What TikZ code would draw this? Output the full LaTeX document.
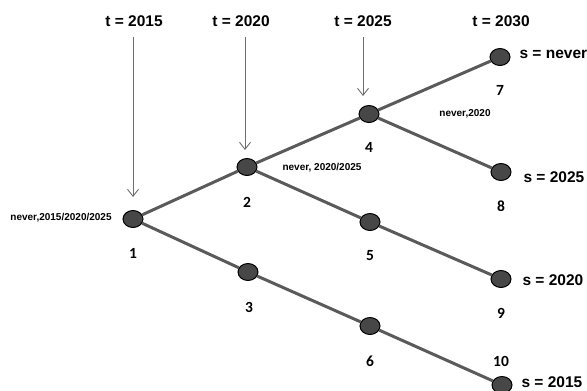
\documentclass[tikz,border=0pt]{standalone}
\usepackage{fontspec}
\setmainfont{Liberation Sans}
\newfontfamily\numfont{Carlito}
\usetikzlibrary{shapes.geometric,arrows.meta}
\definecolor{edgegray}{HTML}{5A5A5A}
\definecolor{nodegray}{HTML}{474747}
\definecolor{arrowgray}{HTML}{6E6E6E}

\begin{document}
\begin{tikzpicture}[x=1pt,y=-1pt,
	stage/.style={ellipse,draw=black,fill=nodegray,line width=1pt,minimum width=20pt,minimum height=17pt,inner sep=0pt},
	branch/.style={draw=edgegray,line width=3pt},
	timelabel/.style={font=\fontsize{15.5}{17}\selectfont\bfseries},
	statelabel/.style={font=\fontsize{15.5}{17}\selectfont\bfseries,anchor=west},
	numlabel/.style={font=\numfont\fontsize{15.5}{17}\selectfont\bfseries},
	setlabel/.style={font=\fontsize{10}{11}\selectfont\bfseries},
	timearrow/.style={draw=arrowgray,line width=0.9pt,shorten <=7pt,-{Straight Barb[length=7pt,width=11pt,line width=0.9pt]}}]
		\clip (0,0) rectangle (587,391);
		\useasboundingbox (0,0) rectangle (587,391);
		
		% time labels and arrows
		\node[timelabel] (t1) at (134,21) {t = 2015};
		\node[timelabel] (t2) at (241,21) {t = 2020};
		\node[timelabel] (t3) at (363,21) {t = 2025};
		\node[timelabel] (t4) at (501,21) {t = 2030};
		
		\coordinate (h1) at (133,197);
		\coordinate (h2) at (245,150);
		\coordinate (h3) at (363,96);
		
		\draw[timearrow] (t1.south -| h1) -- (h1);
		\draw[timearrow] (t2.south -| h2) -- (h2);
		\draw[timearrow] (t3.south -| h3) -- (h3);
		
		% tree
		\node[stage] (n1) at (133,219) {};
		\node[stage] (n2) at (247,167) {};
		\node[stage] (n3) at (248,272) {};
		\node[stage] (n4) at (369,114) {};
		\node[stage] (n5) at (370,222) {};
		\node[stage] (n6) at (370,326) {};
		\node[stage] (n7) at (500,57) {};
		\node[stage] (n8) at (501,172) {};
		\node[stage] (n9) at (501,279) {};
		\node[stage] (n10) at (502,385) {};
		
		\draw[branch] (n1) -- (n2);
		\draw[branch] (n1) -- (n3);
		\draw[branch] (n2) -- (n4);
		\draw[branch] (n2) -- (n5);
		\draw[branch] (n3) -- (n6);
		\draw[branch] (n4) -- (n7);
		\draw[branch] (n4) -- (n8);
		\draw[branch] (n5) -- (n9);
		\draw[branch] (n6) -- (n10);
		
		% node numbers
		\node[numlabel] (l1) at (133,253) {1};
		\node[numlabel] (l2) at (247,202) {2};
		\node[numlabel] (l3) at (249,307) {3};
		\node[numlabel] (l4) at (369,147) {4};
		\node[numlabel] (l5) at (370,256) {5};
		\node[numlabel] (l6) at (370,361) {6};
		\node[numlabel] (l7) at (500,90) {7};
		\node[numlabel] (l8) at (501,206) {8};
		\node[numlabel] (l9) at (501,313) {9};
		\node[numlabel] (l10) at (501,361) {10};
		
		% end states
		\node[statelabel] (s7) at (516,54) {s = never};
		\node[statelabel] (s8) at (520,177) {s = 2025};
		\node[statelabel] (s9) at (519,280) {s = 2020};
		\node[statelabel] (s10) at (518,382) {s = 2015};
		
		% sets
		\node[setlabel] (c1) at (61,218) {never,2015/2020/2025};
		\node[setlabel] (c2) at (322,168) {never, 2020/2025};
		\node[setlabel] (c4) at (465,114) {never,2020};
		
\end{tikzpicture}
\end{document}
